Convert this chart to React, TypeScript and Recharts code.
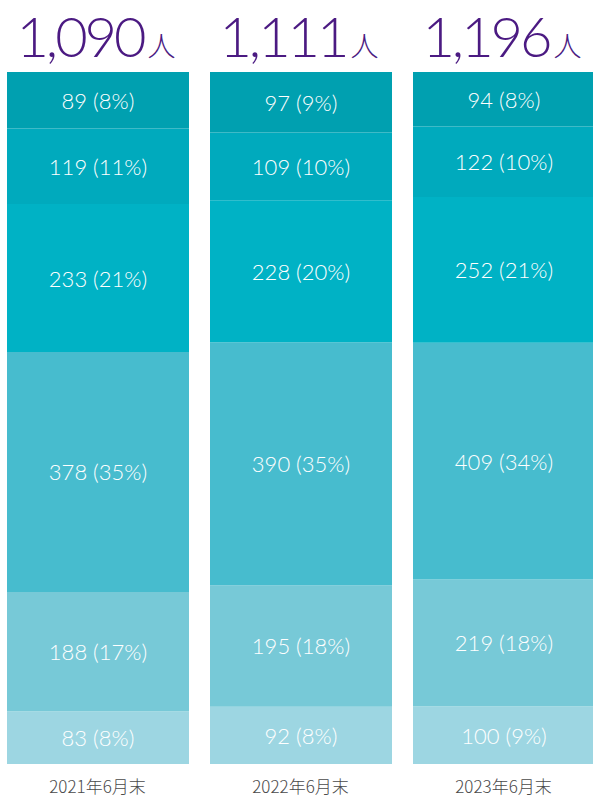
import { BarChart, Bar, XAxis, YAxis, LabelList } from "recharts";

// headcount by group, year-end June; stacked bottom -> top
const periods = ["2021年6月末", "2022年6月末", "2023年6月末"];
const totals = [1090, 1111, 1196];

const seg1 = [83, 92, 100];
const seg2 = [188, 195, 219];
const seg3 = [378, 390, 409];
const seg4 = [233, 228, 252];
const seg5 = [119, 109, 122];
const seg6 = [89, 97, 94];

// shares as printed in the chart
const pct1 = [8, 8, 9];
const pct2 = [17, 18, 18];
const pct3 = [35, 35, 34];
const pct4 = [21, 20, 21];
const pct5 = [11, 10, 10];
const pct6 = [8, 9, 8];

const segColors = ["#9dd6e2", "#77c9d7", "#47bcce", "#00b2c5", "#00aabd", "#00a0b0"];

const segValues = [seg1, seg2, seg3, seg4, seg5, seg6];
const segPcts = [pct1, pct2, pct3, pct4, pct5, pct6];

const data = periods.map((p, i) => {
  const row: Record<string, string | number> = { period: p, total: totals[i] };
  segValues.forEach((s, k) => {
    row[`g${k + 1}`] = s[i];
  });
  return row;
});

const NUM_FONT = "Lato, Roboto, 'Noto Sans', sans-serif";
const JP_FONT = "'Noto Sans CJK JP', 'Noto Sans', sans-serif";

function fmtComma(n: number): string {
  return n.toLocaleString("en-US");
}

function segLabel(k: number) {
  return (props: any) => {
    const { x, y, width, height, index } = props;
    const v = segValues[k][index];
    const p = segPcts[k][index];
    return (
      <text
        x={x + width / 2}
        y={y + height / 2}
        textAnchor="middle"
        dominantBaseline="central"
        fill="#ffffff"
        fontFamily={NUM_FONT}
        fontWeight={300}
        fontSize={22}
      >
        {`${v} (${p}%)`}
      </text>
    );
  };
}

function TotalLabel(props: any) {
  const { x, y, width, index } = props;
  return (
    <text
      x={x + width / 2 - 2}
      y={y - 15}
      textAnchor="middle"
      fill="#4b1a82"
      fontFamily={NUM_FONT}
      fontWeight={300}
    >
      <tspan fontSize={56} letterSpacing={-3}>
        {fmtComma(totals[index])}
      </tspan>
      <tspan fontSize={28} fontFamily={JP_FONT} fontWeight={300} dx={4}>
        人
      </tspan>
    </text>
  );
}

function PeriodTick(props: any) {
  const { x, y, payload } = props;
  return (
    <text
      x={x}
      y={y + 21}
      textAnchor="middle"
      fill="#4a4a4a"
      fontFamily={JP_FONT}
      fontWeight={300}
      fontSize={17}
    >
      {payload.value}
    </text>
  );
}

export default function App() {
  return (
    <div
      style={{
        position: "absolute",
        left: 0,
        top: 0,
        width: 593,
        height: 799,
        overflow: "hidden",
        background: "#ffffff",
      }}
    >
      <div style={{ position: "absolute", left: -4, top: 0 }}>
        <BarChart
          width={609}
          height={799}
          data={data}
          stackOffset="expand"
          barSize={182}
          margin={{ top: 72, right: 0, bottom: 0, left: 0 }}
        >
          <XAxis
            dataKey="period"
            height={35}
            axisLine={false}
            tickLine={false}
            tick={<PeriodTick />}
            interval={0}
          />
          <YAxis hide domain={[0, 1]} />
          {segColors.map((c, k) => (
            <Bar
              key={k}
              dataKey={`g${k + 1}`}
              stackId="a"
              fill={c}
              isAnimationActive={false}
            >
              <LabelList content={segLabel(k)} />
              {k === segColors.length - 1 ? <LabelList content={<TotalLabel />} /> : null}
            </Bar>
          ))}
        </BarChart>
      </div>
    </div>
  );
}
